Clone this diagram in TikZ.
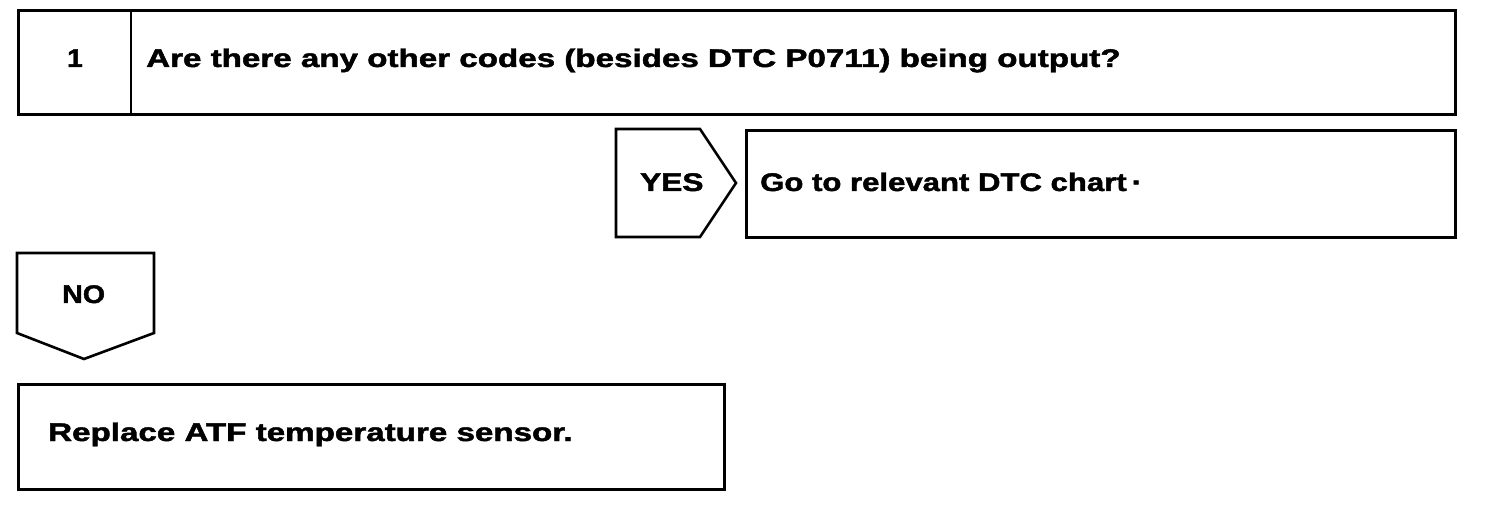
\documentclass[tikz,border=0pt]{standalone}
\usepackage{fontspec}
\usepackage{graphicx}
\setmainfont{Liberation Sans}[BoldFeatures={FakeBold=1.6}]
\newcommand{\myhs}[2]{\scalebox{#1}[1]{#2}}
\begin{document}
\begin{tikzpicture}[x=1pt,y=-1pt,
  box/.style={draw, line width=2.8pt, rectangle, anchor=north west, inner sep=0pt},
  tag/.style={draw, line width=2.6pt, line join=miter},
  txt/.style={font=\bfseries\fontsize{25.5}{30}\selectfont, anchor=base west, inner sep=0pt}]
\useasboundingbox (0,0) rectangle (1504,510);
% question box
\node[box, minimum width=1437pt, minimum height=104pt] (q) at (17,9) {};
\coordinate (dt) at (131,9);
\coordinate (db) at (131,113);
\draw[line width=2.6pt] (dt) -- (db);
\node[txt] (num) at (67,67) {\myhs{1.1}{1}};
\node[txt] (qtext) at (146,67) {\myhs{1.3}{Are there any other codes (besides DTC P0711) being output?}};
% YES tag
\draw[tag] (616,129) -- (700,129) -- (736,183) -- (700,237) -- (616,237) -- cycle;
\node[txt] (yes) at (640,191) {\myhs{1.24}{YES}};
% YES result
\node[box, minimum width=709pt, minimum height=107pt] (go) at (745,129) {};
\node[txt] (gotext) at (760,191) {\myhs{1.22}{Go to relevant DTC chart\,·}};
% NO tag
\draw[tag] (17,253) -- (154,253) -- (154,333) -- (84,359) -- (17,333) -- cycle;
\node[txt] (no) at (62,303) {\myhs{1.12}{NO}};
% NO result
\node[box, minimum width=706pt, minimum height=105pt] (rep) at (17,383) {};
\node[txt] (reptext) at (48,441) {\myhs{1.3}{Replace ATF temperature sensor.}};
\end{tikzpicture}
\end{document}
